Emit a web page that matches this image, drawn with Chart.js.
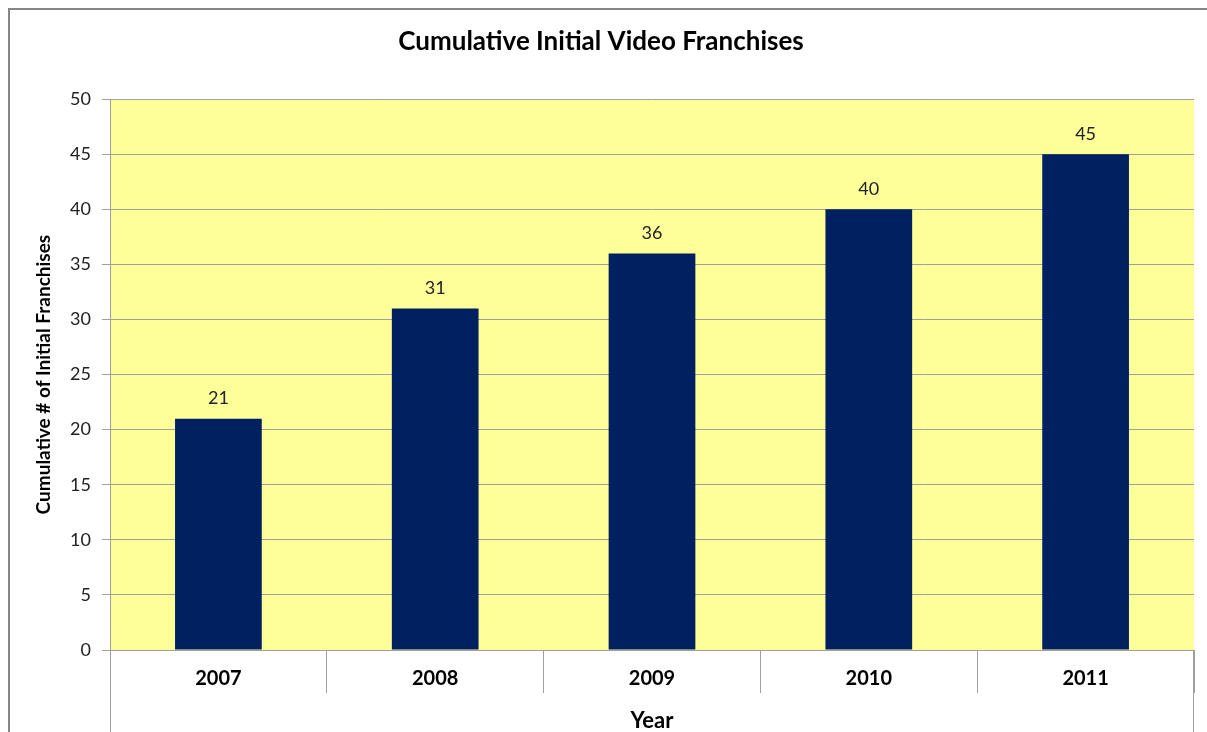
<!DOCTYPE html>
<html>
<head>
<meta charset="utf-8">
<script src="https://cdn.jsdelivr.net/npm/chart.js@4"></script>
<style>
	html, body { margin: 0; padding: 0; background: #fff; }
	#wrap { width: 1207px; height: 732px; }
</style>
</head>
<body>
<div id="wrap"><canvas id="franchiseChart" width="1207" height="732"></canvas></div>
<script>
var years = ['2007', '2008', '2009', '2010', '2011'];
var franchiseCnt = [21, 31, 36, 40, 45];
var yTicks = [0, 5, 10, 15, 20, 25, 30, 35, 40, 45, 50];

var FONT = 'Lato, Calibri, "Liberation Sans", sans-serif';
var GRID_COLOR = '#a0a0a0';

// plot background + outer frame + long side lines of the category axis
var framePlugin = {
	id: 'framePlugin',
	beforeDraw: function(chart) {
		var ctx = chart.ctx;
		var a = chart.chartArea;
		ctx.save();
		ctx.fillStyle = '#ffff99';
		ctx.fillRect(a.left, a.top, a.right - a.left, a.bottom - a.top);
		ctx.restore();
	},
	afterDraw: function(chart) {
		var ctx = chart.ctx;
		var a = chart.chartArea;
		ctx.save();
		ctx.strokeStyle = '#868686';
		ctx.lineWidth = 2;
		ctx.beginPath();
		ctx.moveTo(9, chart.height);
		ctx.lineTo(9, 9);
		ctx.lineTo(chart.width, 9);
		ctx.stroke();

		ctx.strokeStyle = GRID_COLOR;
		ctx.lineWidth = 1;
		ctx.beginPath();
		ctx.moveTo(Math.round(a.left) + 0.5, a.bottom);
		ctx.lineTo(Math.round(a.left) + 0.5, chart.height);
		ctx.moveTo(Math.round(a.right) - 0.5, a.bottom);
		ctx.lineTo(Math.round(a.right) - 0.5, chart.height);
		ctx.stroke();
		ctx.restore();
	}
};

// value labels above bars
var valueLabelPlugin = {
	id: 'valueLabelPlugin',
	afterDatasetsDraw: function(chart) {
		var ctx = chart.ctx;
		ctx.save();
		ctx.font = '18px ' + FONT;
		ctx.fillStyle = '#222';
		ctx.textAlign = 'center';
		ctx.textBaseline = 'middle';
		chart.data.datasets.forEach(function(ds, i) {
			chart.getDatasetMeta(i).data.forEach(function(bar, idx) {
				ctx.fillText(ds.data[idx], bar.x, bar.y - 20);
			});
		});
		ctx.restore();
	}
};

var config = {
	type: 'bar',
	data: {
		labels: years,
		datasets: [{
			label: 'Cumulative # of Initial Franchises',
			data: franchiseCnt,
			backgroundColor: '#002060',
			borderWidth: 0,
			categoryPercentage: 1.0,
			barPercentage: 0.4
		}]
	},
	options: {
		responsive: false,
		animation: false,
		layout: {
			padding: { left: 8, top: 8, right: 13, bottom: 0 }
		},
		plugins: {
			legend: { display: false },
			tooltip: { enabled: false },
			title: {
				display: true,
				text: 'Cumulative Initial Video Franchises',
				color: '#000',
				font: { family: FONT, size: 26, weight: 'bold' },
				padding: { top: 18, bottom: 42 }
			}
		},
		scales: {
			x: {
				offset: true,
				grid: {
					offset: true,
					drawOnChartArea: false,
					color: GRID_COLOR,
					tickLength: 43
				},
				border: { color: GRID_COLOR },
				ticks: {
					color: '#000',
					padding: -26,
					font: { family: FONT, size: 20, weight: 'bold' }
				},
				title: {
					display: true,
					text: 'Year',
					color: '#000',
					font: { family: FONT, size: 22, weight: 'bold' },
					padding: { top: 0, bottom: -2 }
				},
				afterFit: function(scale) { scale.height = 82; }
			},
			y: {
				min: 0,
				max: 50,
				afterBuildTicks: function(scale) {
					scale.ticks = yTicks.map(function(v) { return { value: v }; });
				},
				grid: {
					color: GRID_COLOR,
					tickLength: 8
				},
				border: { color: GRID_COLOR },
				ticks: {
					color: '#222',
					padding: 11,
					font: { family: FONT, size: 18 }
				},
				title: {
					display: true,
					text: 'Cumulative # of Initial Franchises',
					color: '#000',
					font: { family: FONT, size: 19, weight: 'bold' },
					padding: { top: 24, bottom: 0 }
				},
				afterFit: function(scale) { scale.width = 102; }
			}
		}
	},
	plugins: [framePlugin, valueLabelPlugin]
};

var franchiseChart = new Chart(document.getElementById('franchiseChart'), config);
</script>
</body>
</html>
